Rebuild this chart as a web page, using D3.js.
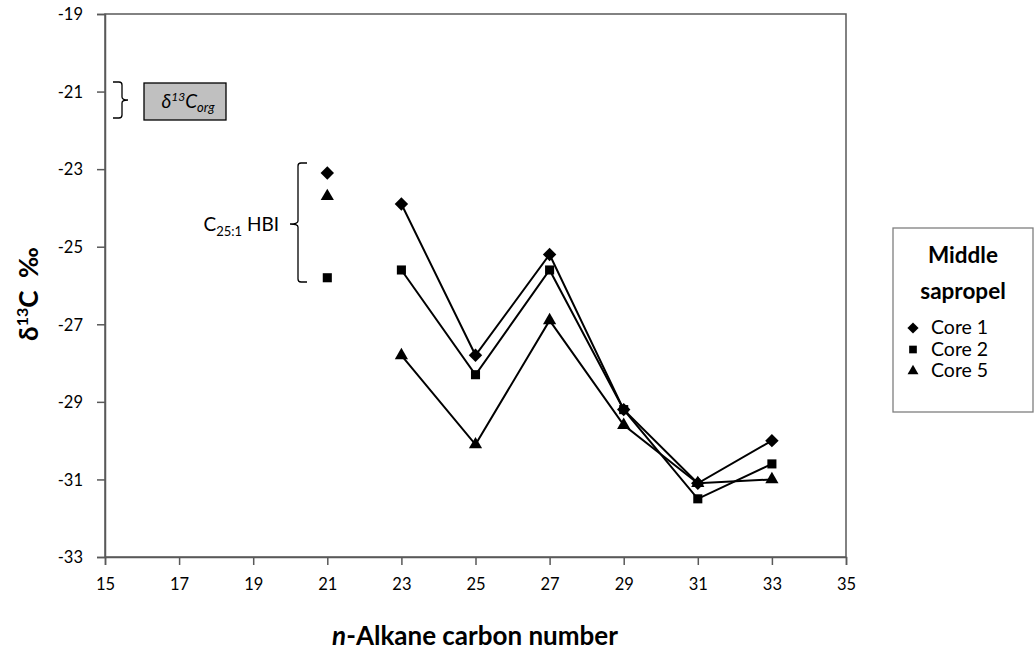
<!DOCTYPE html>
<html>
<head>
<meta charset="utf-8">
<script src="https://cdn.jsdelivr.net/npm/d3@7"></script>
<style>
  body { margin: 0; background: #fff; }
  svg { display: block; font-family: Lato, "Open Sans", sans-serif; }
</style>
</head>
<body>
<svg id="chart" width="1034" height="666"></svg>
<script>
// n-alkane carbon numbers with compound-specific δ13C (‰)
const carbonNumbers = [23, 25, 27, 29, 31, 33];
const core1 = [-23.9, -27.8, -25.2, -29.2, -31.1, -30.0];
const core2 = [-25.6, -28.3, -25.6, -29.2, -31.5, -30.6];
const core5 = [-27.8, -30.1, -26.9, -29.6, -31.1, -31.0];

// C25:1 highly branched isoprenoid, plotted at carbon number 21
const hbiCarbon = 21;
const hbiValues = { core1: -23.1, core2: -25.8, core5: -23.7 };

const xTicks = [15, 17, 19, 21, 23, 25, 27, 29, 31, 33, 35];
const yTicks = [-19, -21, -23, -25, -27, -29, -31, -33];
const seriesNames = ["Core 1", "Core 2", "Core 5"];

const svg = d3.select("#chart");
const m = { left: 105, right: 846, top: 14, bottom: 557 };

const x = d3.scaleLinear().domain([15, 35]).range([m.left, m.right]);
const y = d3.scaleLinear().domain([-33, -19]).range([m.bottom, m.top]);

const axisColor = "#595959";

// plot frame
svg.append("rect")
  .attr("x", m.left).attr("y", m.top)
  .attr("width", m.right - m.left).attr("height", m.bottom - m.top)
  .attr("fill", "none").attr("stroke", axisColor).attr("stroke-width", 1.5);

// axes (plain hyphen for negative numbers)
const fmt = d => String(d);
const yAxis = svg.append("g")
  .attr("transform", `translate(${m.left},0)`)
  .call(d3.axisLeft(y).tickValues(yTicks).tickSize(8).tickPadding(14).tickFormat(fmt));
const xAxis = svg.append("g")
  .attr("transform", `translate(0,${m.bottom})`)
  .call(d3.axisBottom(x).tickValues(xTicks).tickSize(8).tickPadding(13).tickFormat(fmt));

[xAxis, yAxis].forEach(g => {
  g.select(".domain").attr("stroke", axisColor).attr("stroke-width", 1.5);
  g.selectAll(".tick line").attr("stroke", axisColor).attr("stroke-width", 1.5);
  g.selectAll(".tick text").attr("fill", "#000").style("font-size", "16.5px")
    .style("font-family", "Lato, sans-serif");
});
yAxis.selectAll(".tick text").attr("dy", "0.35em");

// axis titles
svg.append("text")
  .attr("x", 475).attr("y", 645)
  .attr("text-anchor", "middle")
  .style("font-size", "26px").style("font-weight", "bold")
  .call(t => {
    t.append("tspan").style("font-style", "italic").text("n");
    t.append("tspan").text("-Alkane carbon number");
  });

svg.append("text")
  .attr("transform", "translate(38,294) rotate(-90)")
  .attr("text-anchor", "middle")
  .style("font-size", "26px").style("font-weight", "bold")
  .call(t => {
    t.append("tspan").text("δ");
    t.append("tspan").attr("dy", -10).style("font-size", "16px").text("13");
    t.append("tspan").attr("dy", 10).text("C\u00a0\u00a0‰");
  });

// marker shapes per core
const symbols = [
  d3.symbol().type(d3.symbolDiamond2).size(115),
  d3.symbol().type(d3.symbolSquare2).size(105),
  d3.symbol().type(d3.symbolTriangle2).size(125)
];
const cores = [core1, core2, core5];

const line = d3.line().x(d => x(d[0])).y(d => y(d[1]));

cores.forEach((vals, i) => {
  const pts = carbonNumbers.map((c, j) => [c, vals[j]]);
  svg.append("path")
    .datum(pts)
    .attr("d", line)
    .attr("fill", "none").attr("stroke", "#000").attr("stroke-width", 2);
  svg.selectAll(null)
    .data(pts)
    .enter().append("path")
    .attr("d", symbols[i])
    .attr("transform", d => `translate(${x(d[0])},${y(d[1])})`)
    .attr("fill", "#000");
});

// HBI points
[hbiValues.core1, hbiValues.core2, hbiValues.core5].forEach((v, i) => {
  svg.append("path")
    .attr("d", symbols[i])
    .attr("transform", `translate(${x(hbiCarbon)},${y(v)})`)
    .attr("fill", "#000");
});

// bracket grouping the HBI values
const bx = 298;
const bTop = 163, bBot = 282, bMid = 224;
svg.append("path")
  .attr("d", `M${bx + 9},${bTop} L${bx + 3},${bTop} Q${bx},${bTop} ${bx},${bTop + 3} L${bx},${bMid - 3} Q${bx},${bMid} ${bx - 8},${bMid} Q${bx},${bMid} ${bx},${bMid + 3} L${bx},${bBot - 3} Q${bx},${bBot} ${bx + 3},${bBot} L${bx + 9},${bBot}`)
  .attr("fill", "none").attr("stroke", "#000").attr("stroke-width", 1.3);

svg.append("text")
  .attr("x", 279).attr("y", 231)
  .attr("text-anchor", "end")
  .style("font-size", "19px")
  .call(t => {
    t.append("tspan").text("C");
    t.append("tspan").attr("dy", 5).style("font-size", "13px").text("25:1");
    t.append("tspan").attr("dy", -5).text(" HBI");
  });

// bulk organic carbon marker
const cx = 113, cTop = 82, cBot = 118, cMid = 100;
svg.append("path")
  .attr("d", `M${cx},${cTop} L${cx + 6},${cTop} Q${cx + 9},${cTop} ${cx + 9},${cTop + 3} L${cx + 9},${cMid - 3} Q${cx + 9},${cMid} ${cx + 15},${cMid} Q${cx + 9},${cMid} ${cx + 9},${cMid + 3} L${cx + 9},${cBot - 3} Q${cx + 9},${cBot} ${cx + 6},${cBot} L${cx},${cBot}`)
  .attr("fill", "none").attr("stroke", "#000").attr("stroke-width", 1.3);

svg.append("rect")
  .attr("x", 144).attr("y", 83).attr("width", 82).attr("height", 37)
  .attr("fill", "#c0c0c0").attr("stroke", "#000").attr("stroke-width", 1.3);
svg.append("text")
  .attr("x", 188).attr("y", 108)
  .attr("text-anchor", "middle")
  .style("font-size", "19px").style("font-style", "italic")
  .call(t => {
    t.append("tspan").text("δ");
    t.append("tspan").attr("dy", -7).style("font-size", "12px").text("13");
    t.append("tspan").attr("dy", 7).text("C");
    t.append("tspan").attr("dy", 4).style("font-size", "13px").text("org");
  });

// legend
const lg = svg.append("g");
lg.append("rect")
  .attr("x", 893).attr("y", 228).attr("width", 140).attr("height", 184)
  .attr("fill", "#fff").attr("stroke", "#7f7f7f").attr("stroke-width", 1.3);
lg.append("text").attr("x", 963).attr("y", 263).attr("text-anchor", "middle")
  .style("font-size", "22.5px").style("font-weight", "bold").text("Middle");
lg.append("text").attr("x", 963).attr("y", 299).attr("text-anchor", "middle")
  .style("font-size", "22.5px").style("font-weight", "bold").text("sapropel");
const legendSymbols = [
  d3.symbol().type(d3.symbolDiamond2).size(80),
  d3.symbol().type(d3.symbolSquare2).size(75),
  d3.symbol().type(d3.symbolTriangle2).size(85)
];
seriesNames.forEach((name, i) => {
  const yy = 328 + i * 21.5;
  lg.append("path").attr("d", legendSymbols[i])
    .attr("transform", `translate(913,${yy})`).attr("fill", "#000");
  lg.append("text").attr("x", 931).attr("y", yy + 6)
    .style("font-size", "19.5px").text(name);
});
</script>
</body>
</html>
